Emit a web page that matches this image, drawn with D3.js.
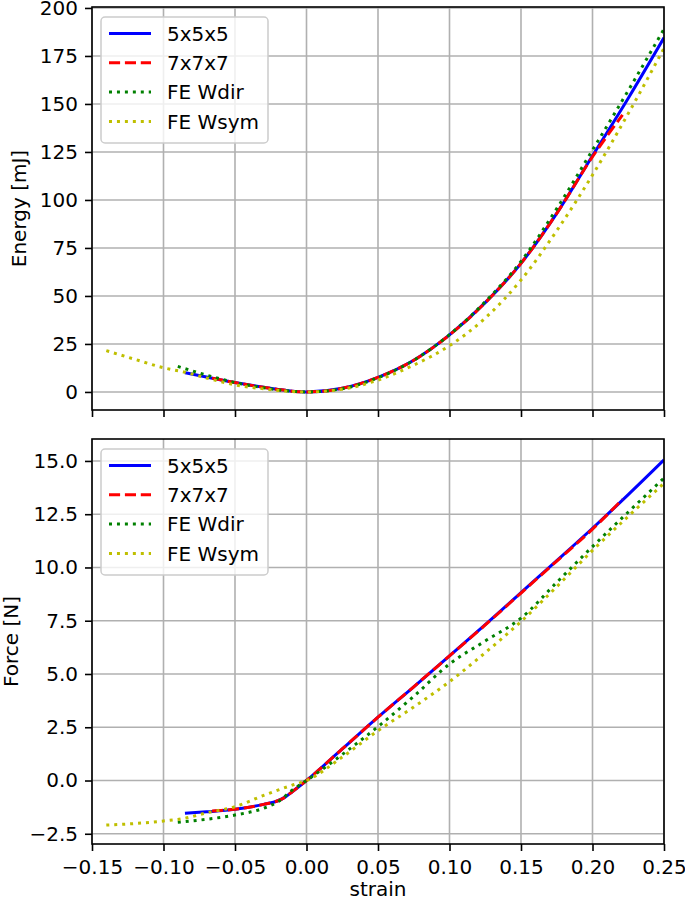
<!DOCTYPE html>
<html>
<head>
<meta charset="utf-8">
<script src="https://cdn.jsdelivr.net/npm/d3@7"></script>
<style>
  body { margin: 0; background: #fff; }
  svg { display: block; font-family: "DejaVu Sans", sans-serif; }
</style>
</head>
<body>
<div id="chart"></div>
<script>
// tick values
var strainTicks = [-0.15, -0.10, -0.05, 0.00, 0.05, 0.10, 0.15, 0.20, 0.25];
var energyTicks = [0, 25, 50, 75, 100, 125, 150, 175, 200];
var forceTicks  = [-2.5, 0.0, 2.5, 5.0, 7.5, 10.0, 12.5, 15.0];

var seriesNames = ['5x5x5', '7x7x7', 'FE Wdir', 'FE Wsym'];

// 5x5x5
var strain5 = [-0.085, -0.07, -0.05, -0.03, -0.02, -0.015, -0.01, 0, 0.025, 0.05, 0.075, 0.1, 0.125, 0.15, 0.175, 0.2, 0.225, 0.25];
var energy5 = [10.0, 7.8, 4.9, 2.4, 1.3, 0.9, 0.4, 0, 1.9, 7.6, 16.5, 29.7, 46.5, 67, 93, 123, 153, 184.5];
var force5  = [-1.54, -1.47, -1.35, -1.12, -0.95, -0.78, -0.53, 0, 1.48, 2.97, 4.4, 5.85, 7.32, 8.82, 10.32, 11.84, 13.42, 15.05];

// 7x7x7
var strain7 = [-0.066, -0.05, -0.03, -0.02, -0.015, -0.01, 0, 0.025, 0.05, 0.075, 0.1, 0.125, 0.15, 0.175, 0.2, 0.221];
var energy7 = [7.2, 4.9, 2.4, 1.3, 0.9, 0.4, 0, 1.9, 7.6, 16.5, 29.7, 46.5, 67, 93, 122.5, 144.3];
var force7  = [-1.43, -1.35, -1.12, -0.95, -0.78, -0.53, 0, 1.48, 2.97, 4.4, 5.85, 7.3, 8.8, 10.3, 11.8, 13.2];

// FE Wdir
var strainDir = [-0.09, -0.07, -0.05, -0.03, -0.02, -0.01, 0, 0.025, 0.05, 0.075, 0.1, 0.125, 0.15, 0.175, 0.2, 0.225, 0.25];
var energyDir = [13.3, 8.8, 4.9, 2.2, 1.1, 0.35, 0, 1.7, 7.4, 16.5, 29.8, 47, 68, 95.5, 126, 157, 189];
var forceDir  = [-1.96, -1.82, -1.62, -1.3, -1.0, -0.45, 0, 1.22, 2.53, 3.95, 5.47, 6.55, 7.62, 9.3, 10.98, 12.6, 14.2];

// FE Wsym
var strainSym = [-0.14, -0.12, -0.1, -0.085, -0.07, -0.05, -0.03, -0.02, -0.01, 0, 0.025, 0.05, 0.075, 0.1, 0.125, 0.15, 0.175, 0.2, 0.225, 0.25];
var energySym = [21.5, 17, 12.6, 10.3, 7.3, 3.7, 1.6, 0.8, 0.2, 0, 1.4, 6.2, 14, 24.1, 38.5, 58.3, 84, 113, 145, 179];
var forceSym  = [-2.09, -2.02, -1.90, -1.77, -1.52, -1.23, -0.7, -0.45, -0.22, 0, 1.1, 2.34, 3.45, 4.64, 6.0, 7.46, 9.1, 10.8, 12.4, 13.95];

// line styles, same order as seriesNames
var lineStyles = [
    { color: '#0000ff', dash: null },
    { color: '#ff0000', dash: '11.1,4.8' },
    { color: '#008000', dash: '3,4.95' },
    { color: '#bfbf00', dash: '3,4.95' }
];

var W = 685, H = 901;
var left = 92, right = 664;
var fontSize = 20;

var svg = d3.select('#chart').append('svg')
    .attr('width', W)
    .attr('height', H);

var x = d3.scaleLinear().domain([-0.15, 0.25]).range([left, right]);

function zipSeries(s, v) {
    return s.map(function(d, i) { return [d, v[i]]; });
}

function drawPanel(opts) {
    var y = d3.scaleLinear().domain(opts.yDomain).range([opts.bottom, opts.top]);
    var g = svg.append('g');

    // grid
    g.append('g').selectAll('line.gx')
        .data(strainTicks).enter().append('line')
        .attr('x1', function(d) { return x(d); })
        .attr('x2', function(d) { return x(d); })
        .attr('y1', opts.top).attr('y2', opts.bottom)
        .attr('stroke', '#b0b0b0').attr('stroke-width', 1.6);
    g.append('g').selectAll('line.gy')
        .data(opts.yTicks).enter().append('line')
        .attr('x1', left).attr('x2', right)
        .attr('y1', function(d) { return y(d); })
        .attr('y2', function(d) { return y(d); })
        .attr('stroke', '#b0b0b0').attr('stroke-width', 1.6);

    // lines, clipped to the axes box
    var clipId = 'clip-' + opts.key;
    g.append('clipPath').attr('id', clipId)
        .append('rect')
        .attr('x', left).attr('y', opts.top)
        .attr('width', right - left).attr('height', opts.bottom - opts.top);

    var line = d3.line()
        .curve(d3.curveMonotoneX)
        .x(function(d) { return x(d[0]); })
        .y(function(d) { return y(d[1]); });

    var lines = g.append('g').attr('clip-path', 'url(#' + clipId + ')');
    opts.series.forEach(function(data, i) {
        lines.append('path')
            .datum(data)
            .attr('d', line)
            .attr('fill', 'none')
            .attr('stroke', lineStyles[i].color)
            .attr('stroke-width', 3)
            .attr('stroke-dasharray', lineStyles[i].dash);
    });

    // axes
    var yAxis = g.append('g')
        .attr('transform', 'translate(' + left + ',0)')
        .call(d3.axisLeft(y).tickValues(opts.yTicks).tickFormat(opts.yFormat).tickSize(7).tickPadding(7));
    var xAxis = g.append('g')
        .attr('transform', 'translate(0,' + opts.bottom + ')')
        .call(d3.axisBottom(x).tickValues(strainTicks).tickFormat(d3.format('.2f')).tickSize(7).tickPadding(9));
    [yAxis, xAxis].forEach(function(a) {
        a.select('.domain').remove();
        a.selectAll('line').attr('stroke', '#000').attr('stroke-width', 1.6);
        a.selectAll('text').attr('fill', '#000')
            .style('font-size', fontSize + 'px')
            .style('font-family', '"DejaVu Sans", sans-serif');
    });
    if (!opts.xLabels) xAxis.selectAll('text').remove();

    // spines
    g.append('rect')
        .attr('x', left).attr('y', opts.top)
        .attr('width', right - left).attr('height', opts.bottom - opts.top)
        .attr('fill', 'none').attr('stroke', '#000').attr('stroke-width', 1.6);

    // y label
    g.append('text')
        .attr('transform', 'translate(' + opts.labelX + ',' + ((opts.top + opts.bottom) / 2) + ') rotate(-90)')
        .attr('text-anchor', 'middle')
        .style('font-size', fontSize + 'px')
        .text(opts.yLabel);

    // legend
    var lg = g.append('g').attr('transform', 'translate(101,' + (opts.top + 10) + ')');
    lg.append('rect')
        .attr('width', 167).attr('height', 126).attr('rx', 4)
        .attr('fill', '#fff').attr('fill-opacity', 0.8)
        .attr('stroke', '#cccccc').attr('stroke-width', 1.5);
    seriesNames.forEach(function(name, i) {
        var cy = 16.5 + i * 29.3;
        lg.append('line')
            .attr('x1', 8).attr('x2', 50)
            .attr('y1', cy).attr('y2', cy)
            .attr('stroke', lineStyles[i].color)
            .attr('stroke-width', 3)
            .attr('stroke-dasharray', lineStyles[i].dash);
        lg.append('text')
            .attr('x', 66).attr('y', cy).attr('dy', '0.36em')
            .style('font-size', fontSize + 'px')
            .text(name);
    });
}

drawPanel({
    key: 'energy',
    top: 7, bottom: 410,
    yDomain: [-9.4, 200.5],
    yTicks: energyTicks,
    yFormat: d3.format('d'),
    yLabel: 'Energy [mJ]',
    labelX: 26,
    xLabels: false,
    series: [zipSeries(strain5, energy5), zipSeries(strain7, energy7),
             zipSeries(strainDir, energyDir), zipSeries(strainSym, energySym)]
});

drawPanel({
    key: 'force',
    top: 439, bottom: 844,
    yDomain: [-2.98, 16.03],
    yTicks: forceTicks,
    yFormat: d3.format('.1f'),
    yLabel: 'Force [N]',
    labelX: 18,
    xLabels: true,
    series: [zipSeries(strain5, force5), zipSeries(strain7, force7),
             zipSeries(strainDir, forceDir), zipSeries(strainSym, forceSym)]
});

// shared x label
svg.append('text')
    .attr('x', (left + right) / 2)
    .attr('y', 896)
    .attr('text-anchor', 'middle')
    .style('font-size', fontSize + 'px')
    .text('strain');
</script>
</body>
</html>
